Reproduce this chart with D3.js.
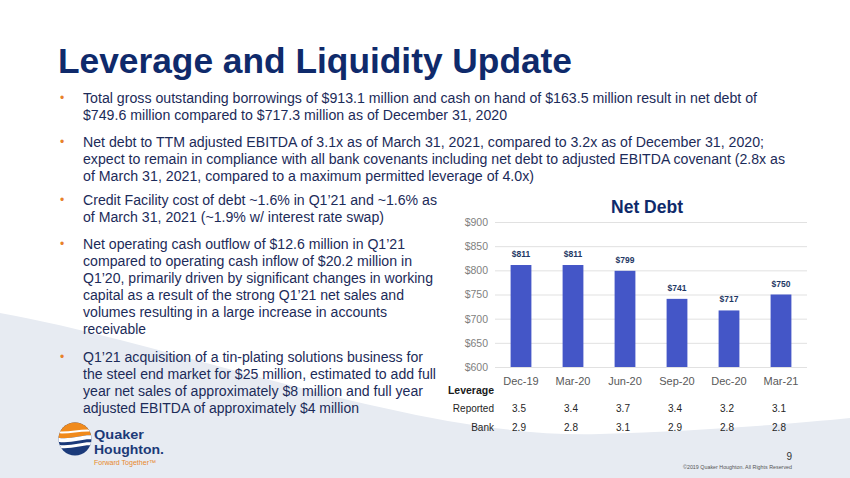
<!DOCTYPE html>
<html>
<head>
<meta charset="utf-8">
<script src="https://cdn.jsdelivr.net/npm/d3@7"></script>
<style>
  body { margin: 0; background: #fff; }
  svg { display: block; font-family: "Liberation Sans", Arial, sans-serif; }
</style>
</head>
<body>
<div id="slide"></div>
<script>
// chart data
var periods = ["Dec-19", "Mar-20", "Jun-20", "Sep-20", "Dec-20", "Mar-21"];
var netDebt = [811, 811, 799, 741, 717, 750];
var reported = ["3.5", "3.4", "3.7", "3.4", "3.2", "3.1"];
var bank = ["2.9", "2.8", "3.1", "2.9", "2.8", "2.8"];
var yTicks = [600, 650, 700, 750, 800, 850, 900];

// slide text, one entry per line: [text, width]
var topBullets = [
  [["Total gross outstanding borrowings of $913.1 million and cash on hand of $163.5 million result in net debt of", 674],
   ["$749.6 million compared to $717.3 million as of December 31, 2020", 424]],
  [["Net debt to TTM adjusted EBITDA of 3.1x as of March 31, 2021, compared to 3.2x as of December 31, 2020;", 681],
   ["expect to remain in compliance with all bank covenants including net debt to adjusted EBITDA covenant (2.8x as", 702],
   ["of March 31, 2021, compared to a maximum permitted leverage of 4.0x)", 451]]
];
var leftBullets = [
  [["Credit Facility cost of debt ~1.6% in Q1\u201921 and ~1.6% as", 354],
   ["of March 31, 2021 (~1.9% w/ interest rate swap)", 301]],
  [["Net operating cash outflow of $12.6 million in Q1\u201921", 322],
   ["compared to operating cash inflow of $20.2 million in", 329],
   ["Q1\u201920, primarily driven by significant changes in working", 350],
   ["capital as a result of the strong Q1\u201921 net sales and", 321],
   ["volumes resulting in a large increase in accounts", 304],
   ["receivable", 63]],
  [["Q1\u201921 acquisition of a tin-plating solutions business for", 340],
   ["the steel end market for $25 million, estimated to add full", 353],
   ["year net sales of approximately $8 million and full year", 340],
   ["adjusted EBITDA of approximately $4 million", 276]]
];

var W = 850, H = 478;
var navy = "#0f2a6b", textCol = "#1c2b59", orange = "#e8812a";

var svg = d3.select("#slide").append("svg").attr("width", W).attr("height", H);

// background swoosh
svg.append("path")
  .attr("d", "M0,313 C180,345 420,440 600,434 C700,431 790,424 850,418 L850,478 L0,478 Z")
  .attr("fill", "#e7ebf2");

// slide title
svg.append("text").attr("x", 58).attr("y", 73)
  .attr("font-size", 35).attr("font-weight", "bold").attr("fill", navy)
  .attr("textLength", 514).attr("lengthAdjust", "spacingAndGlyphs")
  .text("Leverage and Liquidity Update");

function drawBullets(groups, starts, lineH) {
  groups.forEach(function(lines, i) {
    svg.append("text").attr("x", 60).attr("y", starts[i] - 1)
      .attr("font-size", 12).attr("fill", orange).text("\u2022");
    lines.forEach(function(l, j) {
      svg.append("text").attr("x", 83).attr("y", starts[i] + j * lineH)
        .attr("font-size", 14).attr("fill", textCol)
        .attr("textLength", l[1]).attr("lengthAdjust", "spacingAndGlyphs")
        .text(l[0]);
    });
  });
}
drawBullets(topBullets, [103, 147], 16.8);
drawBullets(leftBullets, [205, 249, 362], 16.9);

// ---- Net Debt chart ----
var x = d3.scaleBand().domain(periods).range([495, 807]).paddingInner(0.6).paddingOuter(0.3);
var y = d3.scaleLinear().domain([600, 900]).range([367, 222]);

svg.append("text").attr("x", 647).attr("y", 213).attr("text-anchor", "middle")
  .attr("font-size", 17.5).attr("font-weight", "bold").attr("fill", navy).text("Net Debt");

var yAxis = svg.append("g").attr("transform", "translate(495,0)")
  .call(d3.axisLeft(y).tickValues(yTicks).tickSizeInner(-312).tickSizeOuter(0)
    .tickPadding(7).tickFormat(function(d) { return "$" + d; }));
yAxis.select(".domain").remove();
yAxis.selectAll("line").attr("stroke", "#d9d9d9").attr("stroke-width", 0.8);
yAxis.selectAll("text").attr("font-size", 10.5).attr("fill", "#7f7f7f")
  .attr("font-family", "Liberation Sans, Arial, sans-serif");

svg.append("g").selectAll("rect").data(netDebt).join("rect")
  .attr("x", function(d, i) { return x(periods[i]); })
  .attr("y", function(d) { return y(d); })
  .attr("width", x.bandwidth())
  .attr("height", function(d) { return y(600) - y(d); })
  .attr("fill", "#4456c7");

svg.append("g").selectAll("text").data(netDebt).join("text")
  .attr("x", function(d, i) { return x(periods[i]) + x.bandwidth() / 2; })
  .attr("y", function(d) { return y(d) - 8; })
  .attr("text-anchor", "middle").attr("font-size", 8.5).attr("font-weight", "bold")
  .attr("fill", "#1f3864").text(function(d) { return "$" + d; });

var xAxis = svg.append("g").attr("transform", "translate(0,367)")
  .call(d3.axisBottom(x).tickSize(0).tickPadding(10));
xAxis.select(".domain").remove();
xAxis.selectAll("text").attr("font-size", 11).attr("fill", "#595959")
  .attr("font-family", "Liberation Sans, Arial, sans-serif");

// leverage table
svg.append("text").attr("x", 494).attr("y", 394).attr("text-anchor", "end")
  .attr("font-size", 10.5).attr("font-weight", "bold").attr("fill", "#1a1a1a").text("Leverage");
[["Reported", reported, 412], ["Bank", bank, 431]].forEach(function(row) {
  svg.append("text").attr("x", 494).attr("y", row[2]).attr("text-anchor", "end")
    .attr("font-size", 10).attr("fill", "#262626").text(row[0]);
  svg.append("g").selectAll("text").data(row[1]).join("text")
    .attr("x", function(d, i) { return x(periods[i]) + x.bandwidth() / 2 - 2; })
    .attr("y", row[2]).attr("text-anchor", "middle")
    .attr("font-size", 10).attr("fill", "#262626").text(function(d) { return d; });
});

// logo
var logo = svg.append("g");
logo.append("clipPath").attr("id", "lc").append("circle").attr("cx", 75).attr("cy", 439).attr("r", 16.5);
var lg = logo.append("g").attr("clip-path", "url(#lc)");
lg.append("rect").attr("x", 55).attr("y", 420).attr("width", 40).attr("height", 40).attr("fill", "#1b3a7a");
lg.append("path").attr("d", "M55,420 L95,420 L95,436 C85,433 70,441 55,437 Z").attr("fill", "#f08a1c");
lg.append("path").attr("d", "M55,437 C70,441 85,433 95,436 L95,440 C85,437 70,445 55,441 Z").attr("fill", "#fff");
lg.append("path").attr("d", "M55,444 C70,448 85,440 95,443 L95,446 C85,443 70,451 55,447 Z").attr("fill", "#fff");
lg.append("path").attr("d", "M55,431 C68,433 82,428 95,430 L95,432 C82,430 68,435 55,433 Z").attr("fill", "#fff");
logo.append("text").attr("x", 94).attr("y", 439).attr("font-size", 12).attr("font-weight", "bold")
  .attr("fill", "#1c3a78").attr("textLength", 50).attr("lengthAdjust", "spacingAndGlyphs").text("Quaker");
logo.append("text").attr("x", 94).attr("y", 453.5).attr("font-size", 12).attr("font-weight", "bold")
  .attr("fill", "#1c3a78").attr("textLength", 70).attr("lengthAdjust", "spacingAndGlyphs").text("Houghton.");
logo.append("text").attr("x", 94).attr("y", 465).attr("font-size", 7)
  .attr("fill", "#e8892b").attr("textLength", 62).attr("lengthAdjust", "spacingAndGlyphs").text("Forward Together\u2122");

// footer
svg.append("text").attr("x", 792).attr("y", 460).attr("text-anchor", "end")
  .attr("font-size", 10).attr("fill", "#333").text("9");
svg.append("text").attr("x", 683).attr("y", 469)
  .attr("font-size", 5).attr("fill", "#555").attr("textLength", 109).attr("lengthAdjust", "spacingAndGlyphs")
  .text("\u00a92019 Quaker Houghton.  All Rights Reserved");
</script>
</body>
</html>
